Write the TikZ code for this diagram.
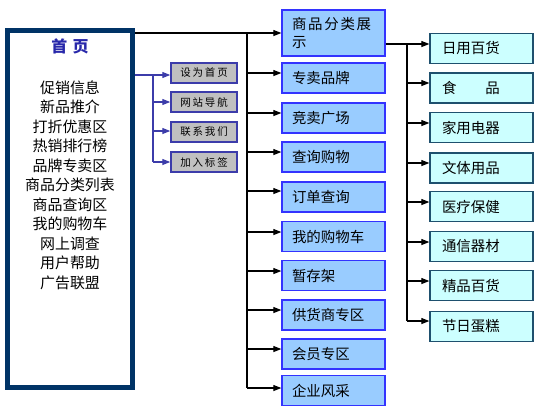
\documentclass[tikz,border=0pt]{standalone}
\usepackage{fontspec}
\setmainfont{Noto Sans CJK SC}
\usetikzlibrary{arrows.meta,calc}
\definecolor{navy}{RGB}{0,51,102}
\definecolor{mblue}{RGB}{51,51,255}
\definecolor{mfill}{RGB}{153,204,255}
\definecolor{rline}{RGB}{30,80,110}
\definecolor{rfill}{RGB}{204,255,255}
\definecolor{gline}{RGB}{60,60,170}
\definecolor{gfill}{RGB}{192,192,192}
\definecolor{title}{RGB}{40,40,170}
\begin{document}
\begin{tikzpicture}[x=1bp,y=-1bp,
  conn/.style={draw=black,line width=1.1bp},
  arr/.style={conn,-{Triangle[length=8bp,width=6bp]}},
  garr/.style={draw=gline,line width=1.3bp,-{Triangle[length=8bp,width=6bp]}},
  gconn/.style={draw=gline,line width=1.3bp},
  mbox/.style={draw=mblue,fill=mfill,line width=1.3bp,minimum width=103bp,minimum height=30bp,
    inner xsep=10bp,inner ysep=0pt,text width=83bp,align=left,font=\fontsize{14.5}{19}\selectfont},
  rbox/.style={draw=rline,fill=rfill,line width=1.3bp,minimum width=103bp,minimum height=30bp,
    inner xsep=12bp,inner ysep=0pt,text width=79bp,align=left,font=\fontsize{14.5}{19}\selectfont},
  gbox/.style={draw=gline,fill=gfill,line width=1.5bp,minimum width=66bp,minimum height=20bp,
    inner sep=0pt,font=\fontsize{10.5}{12}\selectfont\addfontfeature{LetterSpace=18}},
  homebox/.style={draw=navy,line width=5bp,fill=white,minimum width=125bp,minimum height=357bp},
]
\useasboundingbox[fill=white] (0,0) rectangle (537,410);

% main box
\node[homebox] (home) at (70,209) {};
\node[font=\fontsize{16}{18}\selectfont\bfseries,text=title] (hometitle) at (70,46) {首\,\,页};
\node[align=center,font=\fontsize{15}{19.6}\selectfont] (homelist) at (70,185)
  {促销信息\\新品推介\\打折优惠区\\热销排行榜\\品牌专卖区\\商品分类列表\\商品查询区\\我的购物车\\网上调查\\用户帮助\\广告联盟};

% middle column
\node[mbox,minimum height=46bp] (m1) at (333.5,33) {\addfontfeature{LetterSpace=12}商品分类展\\示};
\foreach \i/\y/\t in {2/78/专卖品牌,3/118/竞卖广场,4/157/查询购物,5/197/订单查询,6/236.5/我的购物车,
  7/275.5/暂存架,8/315/供货商专区,9/354/会员专区,10/390.5/企业风采}
  \node[mbox] (m\i) at (333.5,\y) {\t};

% right column
\foreach \i/\y/\t in {1/48.5/日用百货,2/88/{\makebox[4em][l]{食\hfill 品}},3/127.5/家用电器,4/168/文体用品,
  5/206.5/医疗保健,6/246.5/通信器材,7/285.5/精品百货,8/326.5/节日蛋糕}
  \node[rbox] (r\i) at (481.5,\y) {\t};

% gray boxes
\foreach \i/\y/\t in {1/73/设为首页,2/102/网站导航,3/132/联系我们,4/162/加入标签}
  \node[gbox] (g\i) at (204,\y) {\t};

% connectors: home -> middle
\coordinate (vt) at (247,33);
\coordinate (vb) at (247,388);
\draw[conn] (vt) -- (vb);
\draw[arr] (home.east |- m1.west) -- (m1.west);
\foreach \i/\y in {2/73,3/113,4/152,5/191,6/232,7/271,8/310,9/349,10/388}{
  \coordinate (am\i) at (247,\y);
  \draw[arr] (am\i) -- (am\i -| m\i.west);
}

% m1 -> right
\coordinate (rt) at (407,44);
\coordinate (rb) at (407,321);
\draw[conn] (m1.east |- rt) -- (rt) -- (rb);
\foreach \i/\y in {1/44,2/83,3/123,4/163,5/202,6/242,7/281,8/321}{
  \coordinate (ar\i) at (407,\y);
  \draw[arr] (ar\i) -- (ar\i -| r\i.west);
}

% home -> gray
\coordinate (lt) at (153,75);
\coordinate (lb) at (153,162);
\draw[gconn] (home.east |- lt) -- (lt) -- (lb);
\foreach \i/\y in {1/75,2/102,3/131,4/162}{
  \coordinate (al\i) at (153,\y);
  \draw[garr] (al\i) -- (al\i -| g\i.west);
}
\end{tikzpicture}
\end{document}
